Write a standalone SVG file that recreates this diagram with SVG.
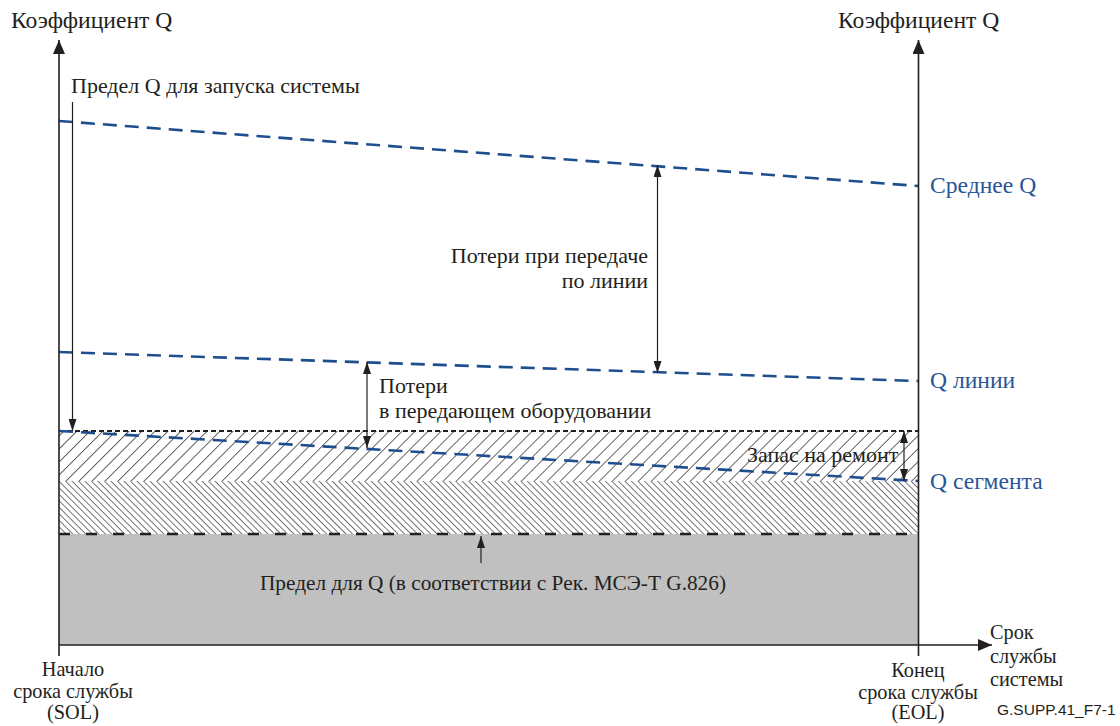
<svg xmlns="http://www.w3.org/2000/svg" width="1120" height="726" viewBox="0 0 1120 726">
  <defs>
    <style>
      .t { font-family: "Liberation Serif", serif; font-size: 22px; fill: #231f20; }
      .big { font-size: 23.6px; }
      .small { font-size: 20.3px; }
      .b { fill: #2a5597; }
      .c { text-anchor: middle; }
      .e { text-anchor: end; }
      .code { font-family: "Liberation Sans", sans-serif; font-size: 15.5px; fill: #231f20; }
      .axis { stroke: #231f20; stroke-width: 1.6; fill: none; }
      .dim { stroke: #231f20; stroke-width: 1.2; fill: none; }
      .qline { stroke: #1f4e8f; stroke-width: 2.6; stroke-dasharray: 14 8; fill: none; }
    </style>
    <!-- hatch for the repair margin band -->
    <pattern id="hatchUp" patternUnits="userSpaceOnUse" width="9.2" height="10" patternTransform="rotate(45)">
      <line x1="0" y1="0" x2="0" y2="10" stroke="#111" stroke-width="1.3"/>
    </pattern>
    <!-- denser hatch for the lower band -->
    <pattern id="hatchDown" patternUnits="userSpaceOnUse" width="4.6" height="10" patternTransform="rotate(-45)">
      <line x1="0" y1="0" x2="0" y2="10" stroke="#111" stroke-width="1.15"/>
    </pattern>
    <marker id="axisHead" viewBox="0 0 14 12" refX="14" refY="6" markerWidth="14" markerHeight="12" markerUnits="userSpaceOnUse" orient="auto">
      <path d="M0,0 L14,6 L0,12 Z" fill="#231f20"/>
    </marker>
    <marker id="dimHead" viewBox="0 0 12 8" refX="12" refY="4" markerWidth="12" markerHeight="8" markerUnits="userSpaceOnUse" orient="auto-start-reverse">
      <path d="M0,0 L12,4 L0,8 Z" fill="#231f20"/>
    </marker>
  </defs>

  <rect width="1120" height="726" fill="#ffffff"/>

  <!-- bands -->
  <g id="bands">
    <rect x="59" y="534" width="859" height="111" fill="#c0c0c0"/>
    <rect x="59" y="431" width="859" height="50" fill="url(#hatchUp)"/>
    <rect x="59" y="481" width="859" height="53" fill="url(#hatchDown)"/>
    <line x1="59" y1="431" x2="918" y2="431" stroke="#231f20" stroke-width="2" stroke-dasharray="5 3"/>
    <line x1="59" y1="534" x2="918" y2="534" stroke="#231f20" stroke-width="2.4" stroke-dasharray="11 16"/>
  </g>

  <!-- Q levels over the service life -->
  <g id="q-levels">
    <line class="qline" x1="59" y1="121" x2="918" y2="186"/>
    <line class="qline" x1="59" y1="352" x2="918" y2="381"/>
    <line class="qline" x1="59" y1="431" x2="918" y2="481"/>
  </g>

  <!-- axes -->
  <g id="axes">
    <line class="axis" x1="59" y1="656" x2="59" y2="40" marker-end="url(#axisHead)"/>
    <line class="axis" x1="918.5" y1="656" x2="918.5" y2="40" marker-end="url(#axisHead)"/>
    <line class="axis" x1="59" y1="645" x2="992" y2="645" marker-end="url(#axisHead)"/>
  </g>

  <!-- dimension arrows -->
  <g id="connectors">
    <line class="dim" x1="72.5" y1="102" x2="72.5" y2="431" marker-end="url(#dimHead)"/>
    <line class="dim" x1="657.5" y1="165" x2="657.5" y2="373" marker-start="url(#dimHead)" marker-end="url(#dimHead)"/>
    <line class="dim" x1="367" y1="362" x2="367" y2="448" marker-start="url(#dimHead)" marker-end="url(#dimHead)"/>
    <line class="dim" x1="904" y1="431" x2="904" y2="481" marker-start="url(#dimHead)" marker-end="url(#dimHead)"/>
    <line class="dim" x1="481" y1="563" x2="481" y2="536" marker-end="url(#dimHead)"/>
  </g>

  <!-- labels -->
  <g id="axis-labels">
    <text class="t big" x="11" y="28">Коэффициент Q</text>
    <text class="t big" x="838" y="28">Коэффициент Q</text>
    <text class="t small c" x="73" y="676">Начало</text>
    <text class="t small c" x="73" y="698">срока службы</text>
    <text class="t small c" x="73" y="719">(SOL)</text>
    <text class="t small c" x="918" y="677">Конец</text>
    <text class="t small c" x="918" y="699">срока службы</text>
    <text class="t small c" x="918" y="719">(EOL)</text>
    <text class="t small" x="990" y="639">Срок</text>
    <text class="t small" x="990" y="663">службы</text>
    <text class="t small" x="990" y="686">системы</text>
  </g>
  <g id="label-start-limit">
    <text class="t" x="71" y="93">Предел Q для запуска системы</text>
  </g>
  <g id="label-mean-q">
    <text class="t big b" x="930" y="193">Среднее Q</text>
  </g>
  <g id="label-line-loss">
    <text class="t e" x="648" y="263">Потери при передаче</text>
    <text class="t e" x="648" y="288">по линии</text>
  </g>
  <g id="label-line-q">
    <text class="t big b" x="930" y="388">Q линии</text>
  </g>
  <g id="label-equipment-loss">
    <text class="t" x="379" y="393">Потери</text>
    <text class="t" x="379" y="418">в передающем оборудовании</text>
  </g>
  <g id="label-repair-margin">
    <text class="t" x="747" y="462">Запас на ремонт</text>
  </g>
  <g id="label-segment-q">
    <text class="t big b" x="930" y="489">Q сегмента</text>
  </g>
  <g id="label-g826">
    <text class="t c" x="493" y="590" style="font-size:21.3px">Предел для Q (в соответствии с Рек. МСЭ-Т G.826)</text>
  </g>
  <g id="figure-code">
    <text class="code" x="997" y="715">G.SUPP.41_F7-1</text>
  </g>
</svg>
